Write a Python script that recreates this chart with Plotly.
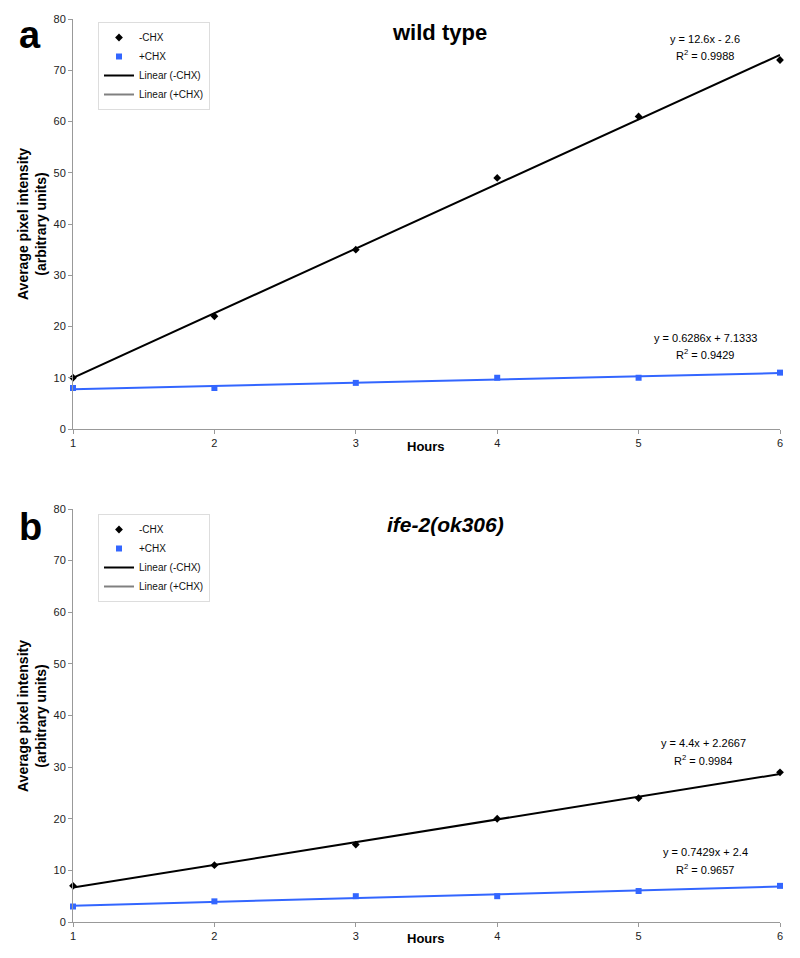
import numpy as np
import plotly.graph_objects as go

hours = [1, 2, 3, 4, 5, 6]
wt_minus = [10, 22, 35, 49, 61, 72]
wt_plus = [8, 8, 9, 10, 10, 11]
ife_minus = [7, 11, 15, 20, 24, 29]
ife_plus = [3, 4, 5, 5, 6, 7]
y_ticks = [0, 10, 20, 30, 40, 50, 60, 70, 80]

eq_labels = {
    "wt_minus": ("y = 12.6x - 2.6", "R<sup>2</sup> = 0.9988"),
    "wt_plus": ("y = 0.6286x + 7.1333", "R<sup>2</sup> = 0.9429"),
    "ife_minus": ("y = 4.4x + 2.2667", "R<sup>2</sup> = 0.9984"),
    "ife_plus": ("y = 0.7429x + 2.4", "R<sup>2</sup> = 0.9657"),
}

BLACK = "#000000"
BLUE = "#3366ff"
GREY = "#808080"
FONT = "Liberation Sans, Arial, sans-serif"

# page body has an 8px margin; size figure so it fits the 800x958 window
OFF = 8
W, H = 800 - OFF, 958 - OFF
def px(x):
    return (x - OFF) / W
def py(y):
    return 1 - (y - OFF) / H

fig = go.Figure()

def fit(x, y):
    s, b = np.polyfit(x, y, 1)
    return [s * xi + b for xi in x]

panels = [
    ("x", "y", "legend", wt_minus, wt_plus),
    ("x2", "y2", "legend2", ife_minus, ife_plus),
]
for xa, ya, lg, ym, yp in panels:
    fig.add_trace(go.Scatter(x=hours, y=fit(hours, ym), mode="lines",
                             line=dict(color=BLACK, width=2), showlegend=False,
                             xaxis=xa, yaxis=ya, cliponaxis=False, hoverinfo="skip"))
    fig.add_trace(go.Scatter(x=hours, y=fit(hours, yp), mode="lines",
                             line=dict(color=BLUE, width=2), showlegend=False,
                             xaxis=xa, yaxis=ya, cliponaxis=False, hoverinfo="skip"))
    fig.add_trace(go.Scatter(x=hours, y=ym, mode="markers", name="-CHX",
                             marker=dict(symbol="diamond", color=BLACK, size=6),
                             xaxis=xa, yaxis=ya, legend=lg, cliponaxis=False))
    fig.add_trace(go.Scatter(x=hours, y=yp, mode="markers", name="+CHX",
                             marker=dict(symbol="square", color=BLUE, size=6),
                             xaxis=xa, yaxis=ya, legend=lg, cliponaxis=False))
    fig.add_trace(go.Scatter(x=[None], y=[None], mode="lines", name="Linear (-CHX)",
                             line=dict(color=BLACK, width=2),
                             xaxis=xa, yaxis=ya, legend=lg))
    fig.add_trace(go.Scatter(x=[None], y=[None], mode="lines", name="Linear (+CHX)",
                             line=dict(color=GREY, width=2),
                             xaxis=xa, yaxis=ya, legend=lg))

xdom = [px(73), px(780)]
axis_common = dict(showgrid=False, zeroline=False, showline=True, linecolor="#999999",
                   linewidth=1, ticks="outside", ticklen=4, tickcolor="#999999",
                   automargin=False,
                   tickfont=dict(family=FONT, size=11, color="#222222"))
fig.update_layout(
    xaxis=dict(domain=xdom, range=[1, 6], tickvals=hours, anchor="y", **axis_common),
    yaxis=dict(domain=[py(429), py(19)], range=[0, 80], tickvals=y_ticks, anchor="x", **axis_common),
    xaxis2=dict(domain=xdom, range=[1, 6], tickvals=hours, anchor="y2", **axis_common),
    yaxis2=dict(domain=[py(922), py(509)], range=[0, 80], tickvals=y_ticks, anchor="x2", **axis_common),
)

legend_common = dict(bgcolor="white", bordercolor="#dddddd", borderwidth=1,
                     font=dict(family=FONT, size=10, color="#111111"),
                     xanchor="left", yanchor="top", tracegroupgap=0, itemwidth=30)
fig.update_layout(
    legend=dict(x=px(98), y=py(22), **legend_common),
    legend2=dict(x=px(98), y=py(514), **legend_common),
)

annotations = []
def ann(x, y, text, size=11, bold=False, italic=False, **kw):
    if bold:
        text = "<b>" + text + "</b>"
    if italic:
        text = "<i>" + text + "</i>"
    annotations.append(dict(x=px(x), y=py(y), xref="paper", yref="paper", text=text,
                            xanchor="center", yanchor="middle",
                            showarrow=False, font=dict(family=FONT, size=size, color="black"), **kw))

ann(30, 35, "a", size=38, bold=True)
ann(30, 527, "b", size=38, bold=True)
ann(439, 33, "wild type", size=22, bold=True)
ann(445, 524, "ife-2(ok306)", size=21, bold=True, italic=True)
ann(426, 446, "Hours", size=13, bold=True)
ann(426, 938, "Hours", size=13, bold=True)
ann(32, 224, "Average pixel intensity<br>(arbitrary units)", size=14, bold=True, textangle=-90)
ann(32, 716, "Average pixel intensity<br>(arbitrary units)", size=14, bold=True, textangle=-90)

eq_pos = {"wt_minus": (705, 39, 55), "wt_plus": (705, 338, 354),
          "ife_minus": (703, 743, 760), "ife_plus": (705, 852, 869)}
for key, (cx, y1, y2) in eq_pos.items():
    l1, l2 = eq_labels[key]
    ann(cx, y1, l1, size=11)
    ann(cx, y2, l2, size=11)

fig.update_layout(annotations=annotations, width=W, height=H,
                  margin=dict(l=0, r=0, t=0, b=0, autoexpand=False),
                  paper_bgcolor="white", plot_bgcolor="white")

fig.write_html("out.html")
